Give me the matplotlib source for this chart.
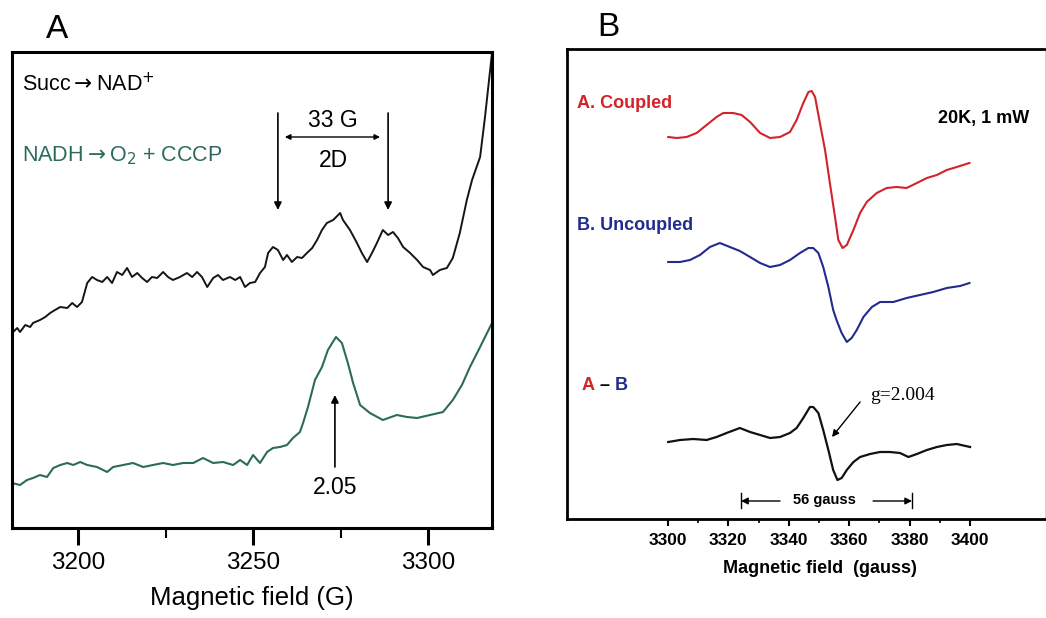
import matplotlib
matplotlib.use("Agg")
import matplotlib.pyplot as plt

# ---- panel A data (field in G, signal in arbitrary units) ----
succ_field = [3181.1, 3182.6, 3183.4, 3184.9, 3186.3, 3187.1, 3189.1, 3190.6, 3192.0, 3193.4,
              3194.9, 3196.9, 3198.3, 3199.7, 3201.1, 3202.6, 3204.0, 3205.4, 3206.9, 3208.3,
              3209.7, 3211.1, 3212.6, 3214.0, 3215.4, 3216.9, 3218.3, 3219.7, 3221.1, 3222.6,
              3224.3, 3225.7, 3227.1, 3229.1, 3231.1, 3232.6, 3234.0, 3235.4, 3236.9, 3238.6,
              3240.0, 3241.4, 3243.4, 3244.9, 3246.3, 3247.7, 3249.1, 3250.6, 3252.0, 3253.4,
              3254.3, 3255.7, 3257.1, 3258.6, 3259.7, 3261.1, 3262.6, 3264.0, 3265.4, 3266.9,
              3268.3, 3269.7, 3271.1, 3272.9, 3274.9, 3275.7, 3277.7, 3279.7, 3281.1, 3282.6,
              3284.0, 3285.4, 3287.1, 3288.6, 3290.0, 3291.4, 3292.9, 3294.9, 3296.9, 3298.6,
              3300.6, 3301.4, 3303.4, 3305.4, 3307.1, 3309.1, 3311.1, 3312.6, 3314.9, 3316.3,
              3318.3]
succ_signal = [195, 200, 196, 203, 201, 205, 208, 211, 215, 218,
               221, 220, 225, 221, 226, 245, 251, 248, 246, 251,
               245, 256, 253, 260, 251, 255, 250, 246, 251, 250,
               256, 251, 248, 251, 255, 251, 256, 251, 241, 250,
               253, 248, 251, 248, 251, 241, 245, 246, 255, 261,
               275, 281, 278, 268, 273, 266, 271, 270, 275, 280,
               288, 298, 305, 308, 315, 308, 298, 285, 275, 266,
               275, 285, 298, 293, 296, 290, 281, 275, 268, 261,
               258, 253, 258, 260, 270, 295, 328, 348, 371, 411,
               475]

nadh_field = [3181.1, 3183.4, 3185.4, 3187.1, 3189.1, 3191.1, 3192.9, 3194.9, 3196.9, 3198.6,
              3200.6, 3202.6, 3205.4, 3208.3, 3210.0, 3212.9, 3215.7, 3218.6, 3221.4, 3224.3,
              3227.1, 3230.0, 3232.9, 3235.7, 3238.6, 3241.4, 3244.3, 3246.3, 3248.3, 3250.0,
              3252.0, 3254.0, 3255.7, 3257.7, 3259.7, 3261.4, 3263.4, 3264.3, 3265.7, 3267.7,
              3269.7, 3271.4, 3273.7, 3275.4, 3277.1, 3278.6, 3280.6, 3283.4, 3287.1, 3291.1,
              3294.0, 3296.9, 3300.6, 3304.3, 3307.1, 3309.7, 3312.0, 3314.9, 3318.3]
nadh_signal = [45, 43, 48, 50, 53, 51, 60, 63, 65, 63,
               66, 63, 61, 56, 61, 63, 65, 61, 63, 65,
               63, 65, 65, 70, 65, 66, 63, 68, 63, 73,
               65, 76, 80, 81, 83, 90, 96, 105, 121, 148,
               161, 178, 191, 185, 165, 145, 123, 115, 108, 113,
               111, 110, 113, 116, 128, 143, 161, 181, 205]

# ---- panel B data (field in gauss, signal in arbitrary units) ----
coupled_field = [3300.1, 3302.9, 3306.2, 3309.5, 3312.8, 3316.1, 3318.3, 3321.6, 3324.4, 3327.2,
                 3330.5, 3333.8, 3337.1, 3340.4, 3342.6, 3344.8, 3346.5, 3347.6, 3348.7, 3350.3,
                 3352.0, 3353.6, 3355.3, 3356.4, 3357.8, 3359.2, 3361.4, 3363.6, 3365.8, 3369.1,
                 3372.4, 3375.7, 3379.0, 3382.4, 3385.7, 3389.0, 3392.3, 3395.6, 3399.8]
coupled_signal = [382, 381, 382, 386, 394, 402, 406, 406, 404, 397,
                  386, 381, 382, 387, 399, 416, 427, 428, 422, 396,
                  369, 336, 302, 279, 271, 274, 289, 306, 317, 326,
                  331, 332, 331, 336, 341, 344, 349, 352, 356]

uncoupled_field = [3300.1, 3304.0, 3307.3, 3310.6, 3313.9, 3317.2, 3320.5, 3323.8, 3327.2, 3330.5,
                   3333.8, 3337.1, 3340.4, 3343.7, 3346.5, 3348.1, 3349.8, 3351.4, 3353.1, 3354.7,
                   3355.8, 3357.5, 3359.2, 3360.8, 3362.5, 3364.7, 3367.5, 3370.2, 3374.6, 3379.0,
                   3383.4, 3387.8, 3392.3, 3396.7, 3399.8]
uncoupled_signal = [257, 257, 259, 264, 272, 276, 272, 268, 262, 256,
                    252, 254, 259, 266, 271, 271, 266, 252, 232, 209,
                    199, 186, 177, 181, 189, 202, 212, 217, 217, 221,
                    224, 227, 231, 233, 236]

diff_field = [3300.1, 3304.0, 3308.4, 3312.8, 3316.1, 3319.4, 3323.8, 3327.2, 3330.5, 3333.8,
              3337.1, 3340.4, 3342.6, 3344.8, 3347.0, 3348.1, 3349.8, 3351.4, 3353.1, 3354.7,
              3356.1, 3357.5, 3359.2, 3361.4, 3363.6, 3366.9, 3370.2, 3373.5, 3376.8, 3379.6,
              3382.4, 3385.7, 3389.0, 3392.3, 3395.6, 3400.0]
diff_signal = [77, 79, 80, 79, 82, 86, 91, 87, 84, 81,
               82, 86, 91, 101, 112, 112, 106, 89, 69, 49,
               39, 41, 49, 57, 62, 65, 67, 67, 66, 62,
               65, 69, 72, 74, 75, 72]

a_ticks = [3200, 3250, 3300]
a_minor = [3225, 3275]
b_ticks = [3300, 3320, 3340, 3360, 3380, 3400]
b_minor = [3310, 3330, 3350, 3370, 3390]

SANS = "Liberation Sans"
SERIF = "Liberation Serif"
GREEN = "#2d6a5b"
RED = "#d2232a"
BLUE = "#222b8c"

plt.rcParams["font.family"] = [SANS, "DejaVu Sans"]

fig = plt.figure(figsize=(10.46, 6.18), dpi=100)

# ================= panel A =================
axA = fig.add_axes([12 / 1046, 90 / 618, 480 / 1046, 476 / 618])
axA.plot(succ_field, succ_signal, color="#151515", lw=1.4)
axA.plot(nadh_field, nadh_signal, color=GREEN, lw=1.5)
axA.set_xlim(3181.1, 3318.3)
axA.set_ylim(0, 476)
axA.set_yticks([])
axA.set_xticks(a_ticks)
axA.set_xticks(a_minor, minor=True)
axA.tick_params(axis="x", which="major", direction="out", length=12, width=2.2,
                labelsize=17.5, pad=5)
axA.tick_params(axis="x", which="minor", direction="out", length=7, width=1.5)
for s in axA.spines.values():
    s.set_linewidth(2.2)
axA.set_xlabel("Magnetic field (G)", fontsize=18.5)
axA.xaxis.set_label_coords(0.5, -0.122)

# small red mark on the right edge
axA.plot([3318.3, 3318.3], [343, 361], color="#c0202a", lw=2.2, clip_on=False)

axA.text(3184, 437, "Succ$\\rightarrow$NAD$^{+}$", fontsize=15.5, va="baseline", ha="left")
axA.text(3184, 367, "NADH$\\rightarrow$O$_2$ + CCCP", fontsize=15.5, va="baseline",
         ha="left", color=GREEN)

arr = dict(arrowstyle="-|>", lw=1.2, color="black", mutation_scale=11, shrinkA=0, shrinkB=0)
for fx in (3257.1, 3288.6):
    axA.annotate("", xy=(fx, 318), xytext=(fx, 415), arrowprops=arr)
axA.annotate("", xy=(3259.1, 391), xytext=(3286.3, 391),
             arrowprops=dict(arrowstyle="<|-|>", lw=1.0, color="black",
                             mutation_scale=8, shrinkA=0, shrinkB=0))
axA.text(3272.9, 408, "33 G", fontsize=16.5, ha="center", va="center")
axA.text(3272.9, 368, "2D", fontsize=16.5, ha="center", va="center")
axA.annotate("", xy=(3273.4, 133), xytext=(3273.4, 61), arrowprops=arr)
axA.text(3273.4, 41, "2.05", fontsize=16.5, ha="center", va="center")

fig.text(57 / 1046, 1 - 30 / 618, "A", fontsize=24, ha="center", va="center")

# ================= panel B =================
axB = fig.add_axes([567 / 1046, 99 / 618, 478 / 1046, 470 / 618])
axB.plot(coupled_field, coupled_signal, color=RED, lw=1.5)
axB.plot(uncoupled_field, uncoupled_signal, color=BLUE, lw=1.5)
axB.plot(diff_field, diff_signal, color="#111111", lw=1.6)
axB.set_xlim(3266.6, 3424.8)
axB.set_ylim(0, 470)
axB.set_yticks([])
axB.set_xticks(b_ticks)
axB.set_xticks(b_minor, minor=True)
axB.tick_params(axis="x", which="major", direction="out", length=5, width=1.5,
                labelsize=12.5, pad=5)
axB.tick_params(axis="x", which="minor", direction="out", length=3, width=1.2)
for lab in axB.get_xticklabels():
    lab.set_fontweight("bold")
for s in axB.spines.values():
    s.set_linewidth(2.0)
axB.spines["right"].set_linewidth(0.6)
axB.spines["right"].set_color("#cccccc")
axB.set_xlabel("Magnetic field  (gauss)", fontsize=13, fontweight="bold")
axB.xaxis.set_label_coords(0.529, -0.088)

axB.text(3269.9, 416, "A. Coupled", fontsize=13, fontweight="bold", color=RED,
         ha="left", va="center")
axB.text(3389.4, 401, "20K, 1 mW", fontsize=13, fontweight="bold", color="black",
         ha="left", va="center")
axB.text(3269.9, 294, "B. Uncoupled", fontsize=13, fontweight="bold", color=BLUE,
         ha="left", va="center")
axB.text(3271.5, 134, "A", fontsize=13, fontweight="bold", color=RED, ha="left", va="center")
axB.text(3277.3, 134, "\u2013", fontsize=13, fontweight="bold", color="black",
         ha="left", va="center")
axB.text(3282.3, 134, "B", fontsize=13, fontweight="bold", color=BLUE, ha="left", va="center")

axB.text(3366.9, 124, "g=2.004", fontsize=14, family=SERIF, ha="left", va="center")
axB.annotate("", xy=(3354.3, 82), xytext=(3363.6, 117),
             arrowprops=dict(arrowstyle="-|>", lw=1.0, color="black",
                             mutation_scale=10, shrinkA=0, shrinkB=0))

# 56 gauss bracket
for fx in (3324.2, 3380.8):
    axB.plot([fx, fx], [11, 26], color="black", lw=1.0)
axB.annotate("", xy=(3324.2, 18), xytext=(3337.1, 18),
             arrowprops=dict(arrowstyle="-|>", lw=1.0, color="black",
                             mutation_scale=10, shrinkA=0, shrinkB=0))
axB.annotate("", xy=(3380.8, 18), xytext=(3367.9, 18),
             arrowprops=dict(arrowstyle="-|>", lw=1.0, color="black",
                             mutation_scale=10, shrinkA=0, shrinkB=0))
axB.text(3351.7, 19, "56 gauss", fontsize=10.5, fontweight="bold", ha="center", va="center")

fig.text(608 / 1046, 1 - 27 / 618, "B", fontsize=24, ha="center", va="center")

fig.savefig("out.png", dpi=100, facecolor="white")
